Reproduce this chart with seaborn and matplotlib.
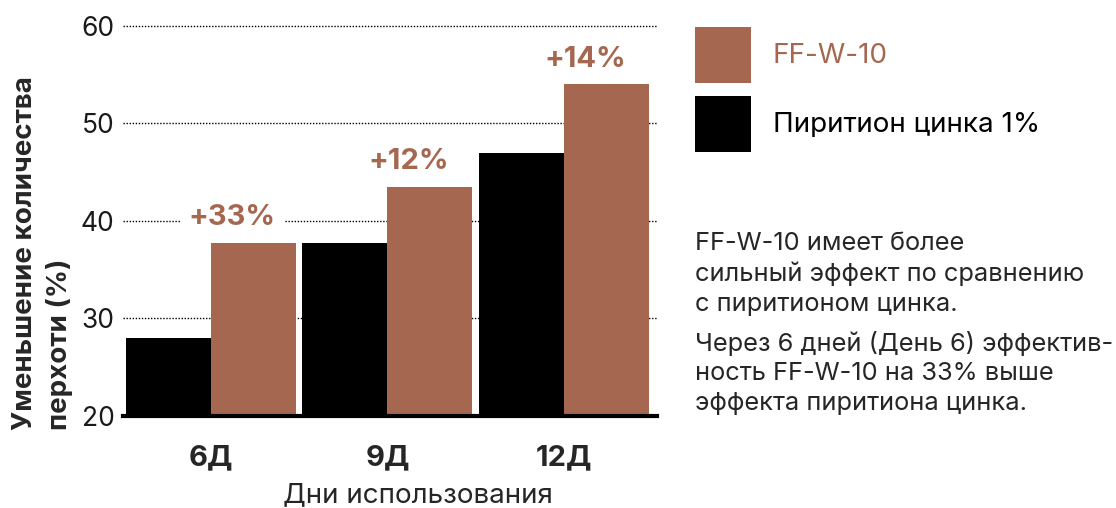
import seaborn as sns
import matplotlib.pyplot as plt
import pandas as pd

# values
days = ["6Д", "9Д", "12Д"]
zinc = [28.0, 37.7, 47.0]
ffw = [37.7, 43.5, 54.0]
gains = ["+33%", "+12%", "+14%"]
series = ["Пиритион цинка 1%", "FF-W-10"]

brown = "#A5674F"

df = pd.DataFrame({
    "day": days * 2,
    "value": zinc + ffw,
    "product": [series[0]] * len(days) + [series[1]] * len(days),
})

sns.set_style("white")
plt.rcParams["font.family"] = ["Inter", "DejaVu Sans"]

W, H = 1116, 508
fig = plt.figure(figsize=(W / 100, H / 100), dpi=100)
ax = fig.add_axes([123 / W, 1 - 415.5 / H, 534 / W, (415.5 - 23) / H])

sns.barplot(data=df, x="day", y="value", hue="product", hue_order=series,
            palette={series[0]: "black", series[1]: brown},
            width=0.965, saturation=1, linewidth=0, ax=ax)

ax.set_ylim(20, 60.3)
ax.set_xlim(-0.5, 2.53)
ax.set_yticks([20, 30, 40, 50, 60])
ax.yaxis.grid(True, linestyle=(0, (1, 1.2)), color="black", linewidth=1)
ax.set_axisbelow(True)
for s in ["left", "right", "top"]:
    ax.spines[s].set_visible(False)
ax.spines["bottom"].set_linewidth(3)
ax.spines["bottom"].set_color("black")

ax.tick_params(axis="y", length=0, pad=6, labelsize=19, labelcolor="#1a1a1a")
ax.tick_params(axis="x", length=0, pad=21, labelsize=21)
for lab in ax.get_xticklabels():
    lab.set_fontweight("bold")

# percentage gain labels above the FF-W-10 bars
for i, (v, g) in enumerate(zip(ffw, gains)):
    ax.text(i + 0.12, v + 2.6, g, ha="center", va="center", color=brown,
            fontsize=21, fontweight="bold",
            bbox=dict(fc="white", ec="none", pad=6))

ax.set_ylabel("")
ax.set_xlabel("Дни использования", fontsize=20)
ax.xaxis.set_label_coords(0.552, -0.203)
ax.xaxis.label.set_va("center")

fig.text(42.5 / W, 1 - 430 / H, "Уменьшение количества\nперхоти (%)",
         rotation=90, ha="center", va="bottom", multialignment="left",
         fontsize=20, fontweight="bold", linespacing=1.42)

handles, labels = ax.get_legend_handles_labels()
ax.legend(handles[::-1], labels[::-1], loc="upper left",
          bbox_to_anchor=(695 / W, 1 - 27 / H), bbox_transform=fig.transFigure,
          frameon=False, fontsize=20, handlelength=2.0, handleheight=2.72,
          handletextpad=0.8, labelspacing=0.47, borderpad=0, borderaxespad=0,
          labelcolor=[brown, "black"])

fig.text(695 / W, 1 - 232 / H,
         "FF-W-10 имеет более\nсильный эффект по сравнению\nс пиритионом цинка.",
         ha="left", va="top", fontsize=18.3, linespacing=1.35)
fig.text(695 / W, 1 - 331 / H,
         "Через 6 дней (День 6) эффектив-\nность FF-W-10 на 33% выше\nэффекта пиритиона цинка.",
         ha="left", va="top", fontsize=18.3, linespacing=1.35)

fig.savefig("out.png", dpi=100)
